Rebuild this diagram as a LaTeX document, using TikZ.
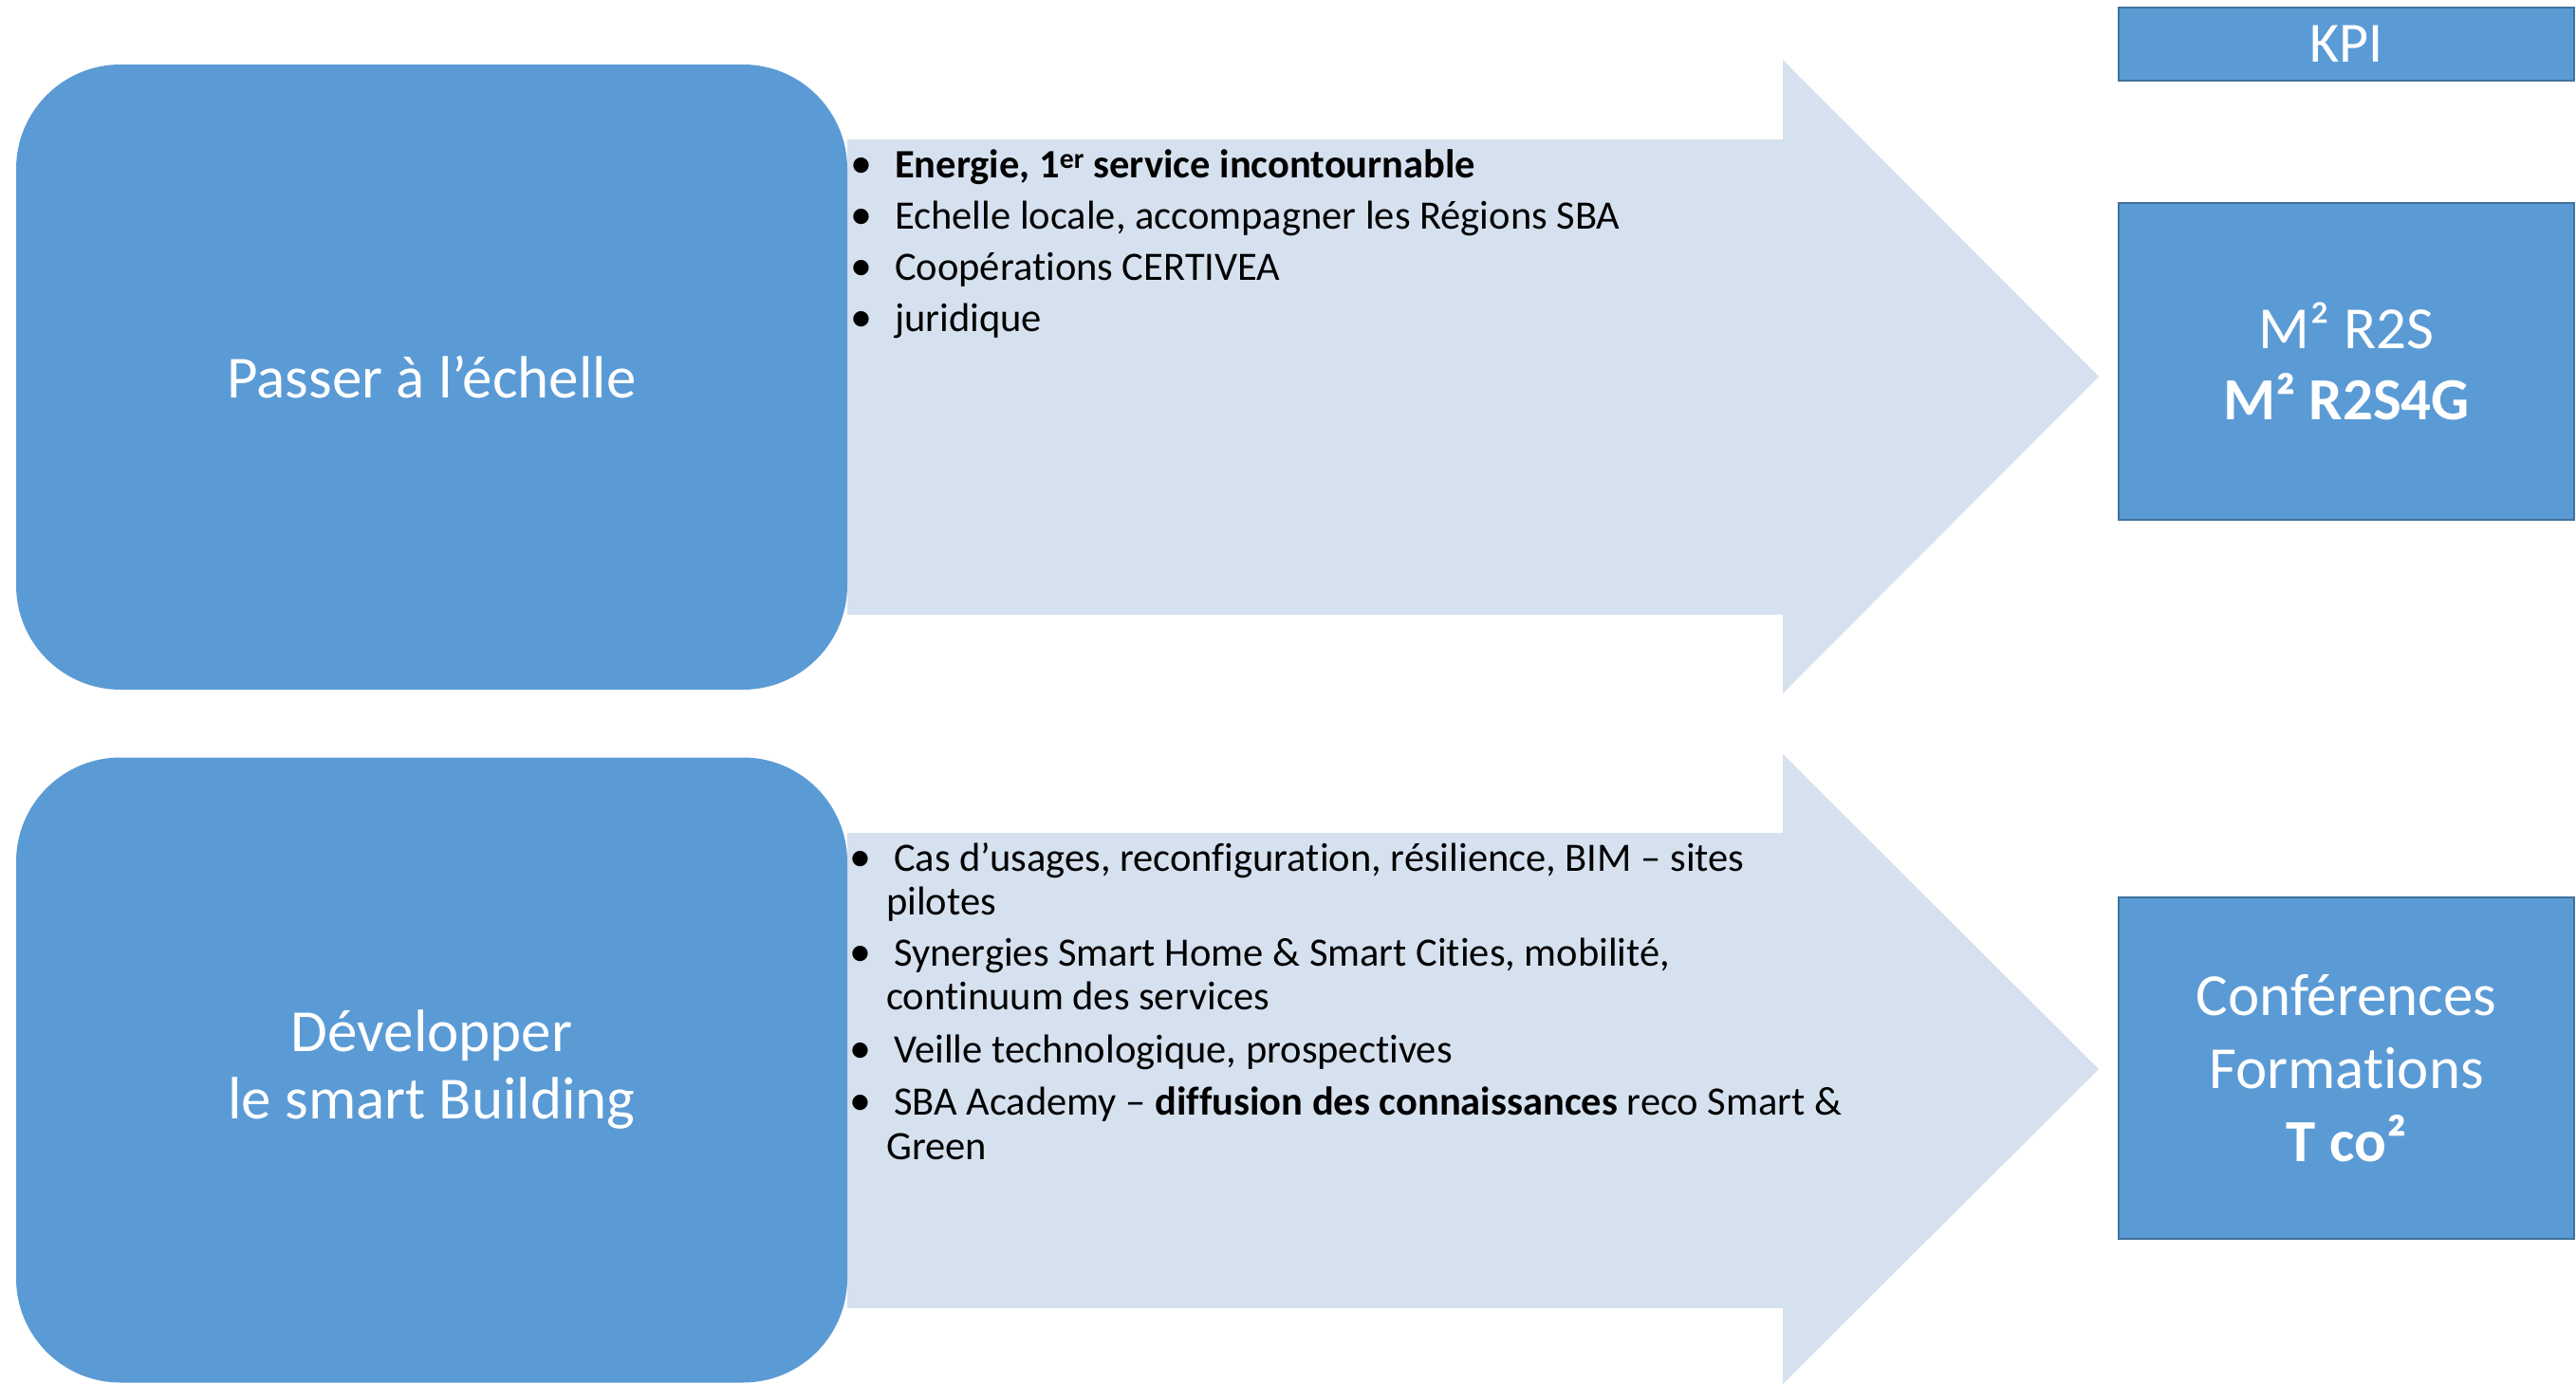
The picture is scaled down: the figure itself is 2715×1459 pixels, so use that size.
\documentclass[tikz,border=0pt]{standalone}
\usepackage{fontspec}
\setmainfont{Carlito}[Ligatures=NoCommon]
\definecolor{boxblue}{HTML}{5B9BD5}
\definecolor{boxedge}{HTML}{41719C}
\definecolor{arrowfill}{HTML}{D6E1EF}
\begin{document}
\begin{tikzpicture}[x=1pt,y=-1pt,
  goal/.style={fill=boxblue, draw=none, rounded corners=110pt, minimum width=876pt, minimum height=659pt, inner sep=0pt, text=white, align=center},
  kpibox/.style={fill=boxblue, draw=boxedge, line width=2.5pt, inner sep=0pt, text=white, align=center, minimum width=480pt},
  blockarrow/.style={fill=arrowfill, draw=none},
  item/.style={anchor=base west, inner sep=0pt, font=\fontsize{42.5}{47}\selectfont, text=black},
  dot/.style={anchor=base, inner sep=0pt, font=\fontsize{46}{47}\selectfont, text=black}
]
\useasboundingbox (0,0) rectangle (2715,1459);

% block arrows
\fill[blockarrow] (893,147) -- (1879,147) -- (1879,63) -- (2212,397) -- (1879,731) -- (1879,648) -- (893,648) -- cycle;
\fill[blockarrow] (893,878) -- (1879,878) -- (1879,795) -- (2212,1127) -- (1879,1459) -- (1879,1379) -- (893,1379) -- cycle;

% goal boxes
\node[goal, font=\fontsize{63}{77}\selectfont] (g1) at (455,397.5) {Passer à l’échelle};
\node[goal, font=\fontsize{63}{71}\selectfont] (g2) at (455,1128) {Développer\\le smart Building};

% KPI boxes
\node[kpibox, minimum height=77pt, font=\fontsize{60}{72}\selectfont] (kpi) at (2473,46.5) {KPI};
\node[kpibox, minimum height=334pt, font=\fontsize{63}{75}\selectfont] (k1) at (2473,381) {M² R2S\\\textbf{M² R2S4G}};
\node[kpibox, minimum height=360pt, font=\fontsize{63}{77}\selectfont] (k2) at (2473,1126) {Conférences\\Formations\\\textbf{T co²}};

% top list
\node[dot] (b1) at (908,187) {•};
\node[item] (t1) at (943,187) {\textbf{Energie, 1\textsuperscript{er} service incontournable}};
\node[dot] (b2) at (908,241) {•};
\node[item] (t2) at (943,241) {Echelle locale, accompagner les Régions SBA};
\node[dot] (b3) at (908,295) {•};
\node[item] (t3) at (943,295) {Coopérations CERTIVEA};
\node[dot] (b4) at (908,349) {•};
\node[item] (t4) at (943,349) {juridique};

% bottom list
\node[dot] (c1) at (907,918) {•};
\node[item] (u1) at (942,918) {Cas d’usages, reconfiguration, résilience, BIM – sites};
\node[item] (u1b) at (934,964) {pilotes};
\node[dot] (c2) at (907,1018) {•};
\node[item] (u2) at (942,1018) {Synergies Smart Home \& Smart Cities, mobilité,};
\node[item] (u2b) at (934,1064.5) {continuum des services};
\node[dot] (c3) at (907,1120) {•};
\node[item] (u3) at (942,1120) {Veille technologique, prospectives};
\node[dot] (c4) at (907,1175) {•};
\node[item] (u4) at (942,1175) {SBA Academy – \textbf{diffusion des connaissances} reco Smart \&};
\node[item] (u4b) at (934,1222) {Green};
\end{tikzpicture}
\end{document}
